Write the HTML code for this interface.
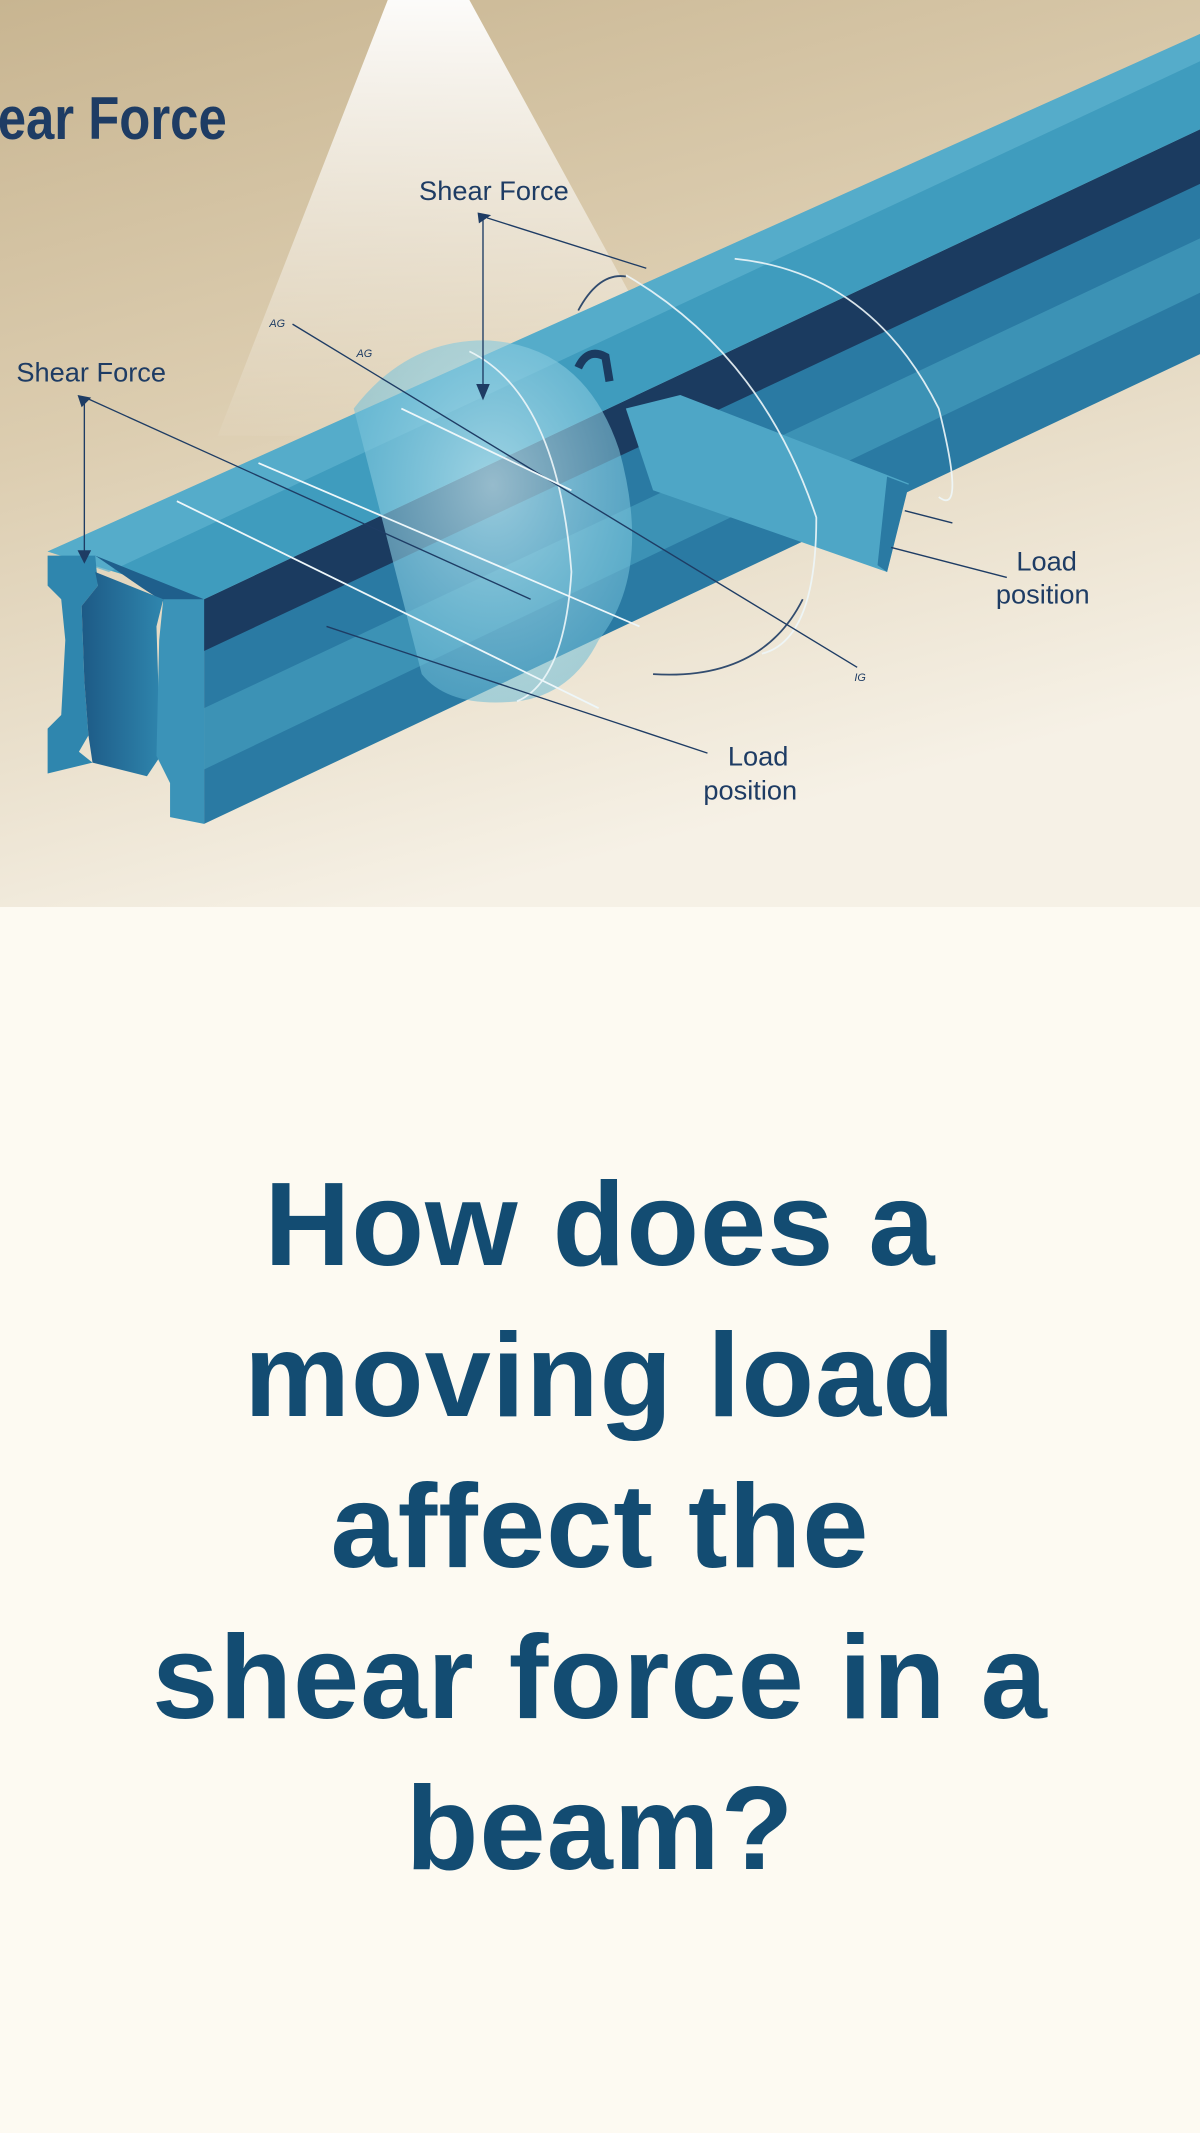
<!DOCTYPE html>
<html><head><meta charset="utf-8"><style>
html,body{margin:0;padding:0;background:#fdfaf2;}
body{width:1200px;height:2133px;position:relative;overflow:hidden;font-family:"Liberation Sans",sans-serif;}
svg{position:absolute;left:0;top:0;display:block}
.q{position:absolute;left:0;width:1200px;text-align:center;color:#134c72;font-weight:bold;font-size:119px;line-height:151px;top:1149px;letter-spacing:1px}
</style></head><body>
<svg width="1200" height="907" viewBox="0 0 882 666" preserveAspectRatio="none">
<defs>
<linearGradient id="bg" x1="0" y1="0" x2="0.35" y2="1">
<stop offset="0" stop-color="#c8b591"/><stop offset="0.45" stop-color="#dccdb0"/><stop offset="1" stop-color="#f6f1e6"/>
</linearGradient>
<linearGradient id="cone" x1="0" y1="0" x2="0" y2="1">
<stop offset="0" stop-color="#ffffff" stop-opacity="0.95"/><stop offset="1" stop-color="#ffffff" stop-opacity="0.05"/>
</linearGradient>
<radialGradient id="disk" cx="0.5" cy="0.4" r="0.6">
<stop offset="0" stop-color="#bfe6f0" stop-opacity="0.75"/><stop offset="1" stop-color="#6cbcd6" stop-opacity="0.55"/>
</radialGradient>
<linearGradient id="endf" x1="0" y1="0" x2="1" y2="0">
<stop offset="0" stop-color="#1d5a86"/><stop offset="1" stop-color="#2f86ae"/>
</linearGradient>
</defs>
<rect width="882" height="666" fill="url(#bg)"/>
<polygon points="285,0 345,0 520,320 160,320" fill="url(#cone)"/>
<!-- beam side face -->
<polygon points="150,440 882,95 882,260 150,605" fill="#2a7aa3"/>
<polygon points="150,520 882,175 882,215 150,565" fill="#4aa2c2" opacity="0.6"/>
<!-- dark groove -->
<polygon points="150,440 882,95 882,135 150,478" fill="#1b3b60"/>
<!-- top face -->
<polygon points="35,405 882,25 882,95 150,440" fill="#3f9cbe"/>
<polygon points="35,405 882,25 882,45 80,420" fill="#5fb3cf" opacity="0.7"/>
<!-- end I-section -->
<polygon points="35,408 70,408 72,430 60,445 62,500 65,540 58,552 68,560 35,568 35,535 45,525 48,470 45,440 35,430" fill="#2f86ae"/>
<polygon points="70,408 150,440 125,445 105,432" fill="#1f5f8c"/>
<polygon points="70,420 120,440 115,460 118,555 108,570 68,560 65,540 62,500 60,445 72,430" fill="url(#endf)"/>
<polygon points="120,440 150,440 150,605 125,600 125,575 115,555 117,470" fill="#3b93b8"/>
<!-- translucent disk -->
<path d="M260,300 Q300,248 360,250 Q430,255 455,330 Q480,420 440,470 Q420,510 380,515 Q330,520 310,495 L260,300 Z" fill="url(#disk)"/>
<!-- load bar -->
<polygon points="460,300 500,290 668,355 652,420 480,360" fill="#4ea6c6"/>
<polygon points="652,350 668,356 652,420 645,415" fill="#2a7aa3"/>
<path d="M425,270 Q432,255 445,262 L448,280" stroke="#1b3b60" stroke-width="6" fill="none"/>
<!-- arcs -->
<g fill="none" stroke="#eef7fa" stroke-width="1.3" opacity="0.9">
<path d="M345,258 Q410,290 420,420 Q415,500 380,515"/>
<path d="M460,202 Q560,260 600,380 Q600,470 560,480"/>
<path d="M540,190 Q640,200 690,300 Q710,380 690,365"/>
<path d="M480,495 Q560,500 590,440" stroke="#1e3c64"/>
<path d="M425,228 Q440,200 460,203" stroke="#1e3c64"/>
</g>
<!-- annotation lines -->
<g stroke="#1e3c64" stroke-width="1" fill="none">
<line x1="355" y1="160" x2="355" y2="290"/>
<line x1="358" y1="160" x2="475" y2="197"/>
<line x1="62" y1="293" x2="62" y2="410"/>
<line x1="65" y1="293" x2="390" y2="440"/>
<line x1="215" y1="238" x2="630" y2="490"/>
<line x1="240" y1="460" x2="520" y2="553"/>
<line x1="655" y1="402" x2="740" y2="424"/>
<line x1="665" y1="375" x2="700" y2="384"/>
</g>
<g stroke="#eef7fa" stroke-width="1.3">
<line x1="130" y1="368" x2="440" y2="520"/>
<line x1="190" y1="340" x2="470" y2="460"/>
<line x1="295" y1="300" x2="420" y2="360"/>
</g>
<g fill="#1e3c64">
<polygon points="350,282 360,282 355,294"/><polygon points="351,156 361,158 352,164"/>
<polygon points="57,404 67,404 62,414"/><polygon points="57,290 67,292 60,299"/>
</g>
<g font-family="Liberation Sans, sans-serif" fill="#1e3c64">
<text x="-2" y="102" font-size="44" font-weight="bold" transform="scale(0.85,1)" >ear Force</text>
<text x="308" y="147" font-size="20">Shear Force</text>
<text x="12" y="280" font-size="20">Shear Force</text>
<text x="747" y="419" font-size="20">Load</text>
<text x="732" y="443" font-size="20">position</text>
<text x="535" y="562" font-size="20">Load</text>
<text x="517" y="587" font-size="20">position</text>
<text x="198" y="240" font-size="8" font-style="italic">AG</text>
<text x="262" y="262" font-size="8" font-style="italic">AG</text>
<text x="628" y="500" font-size="8" font-style="italic">IG</text>
</g>
</svg>
<div class="q">How does a<br>moving load<br>affect the<br>shear force in a<br>beam?</div>
</body></html>
